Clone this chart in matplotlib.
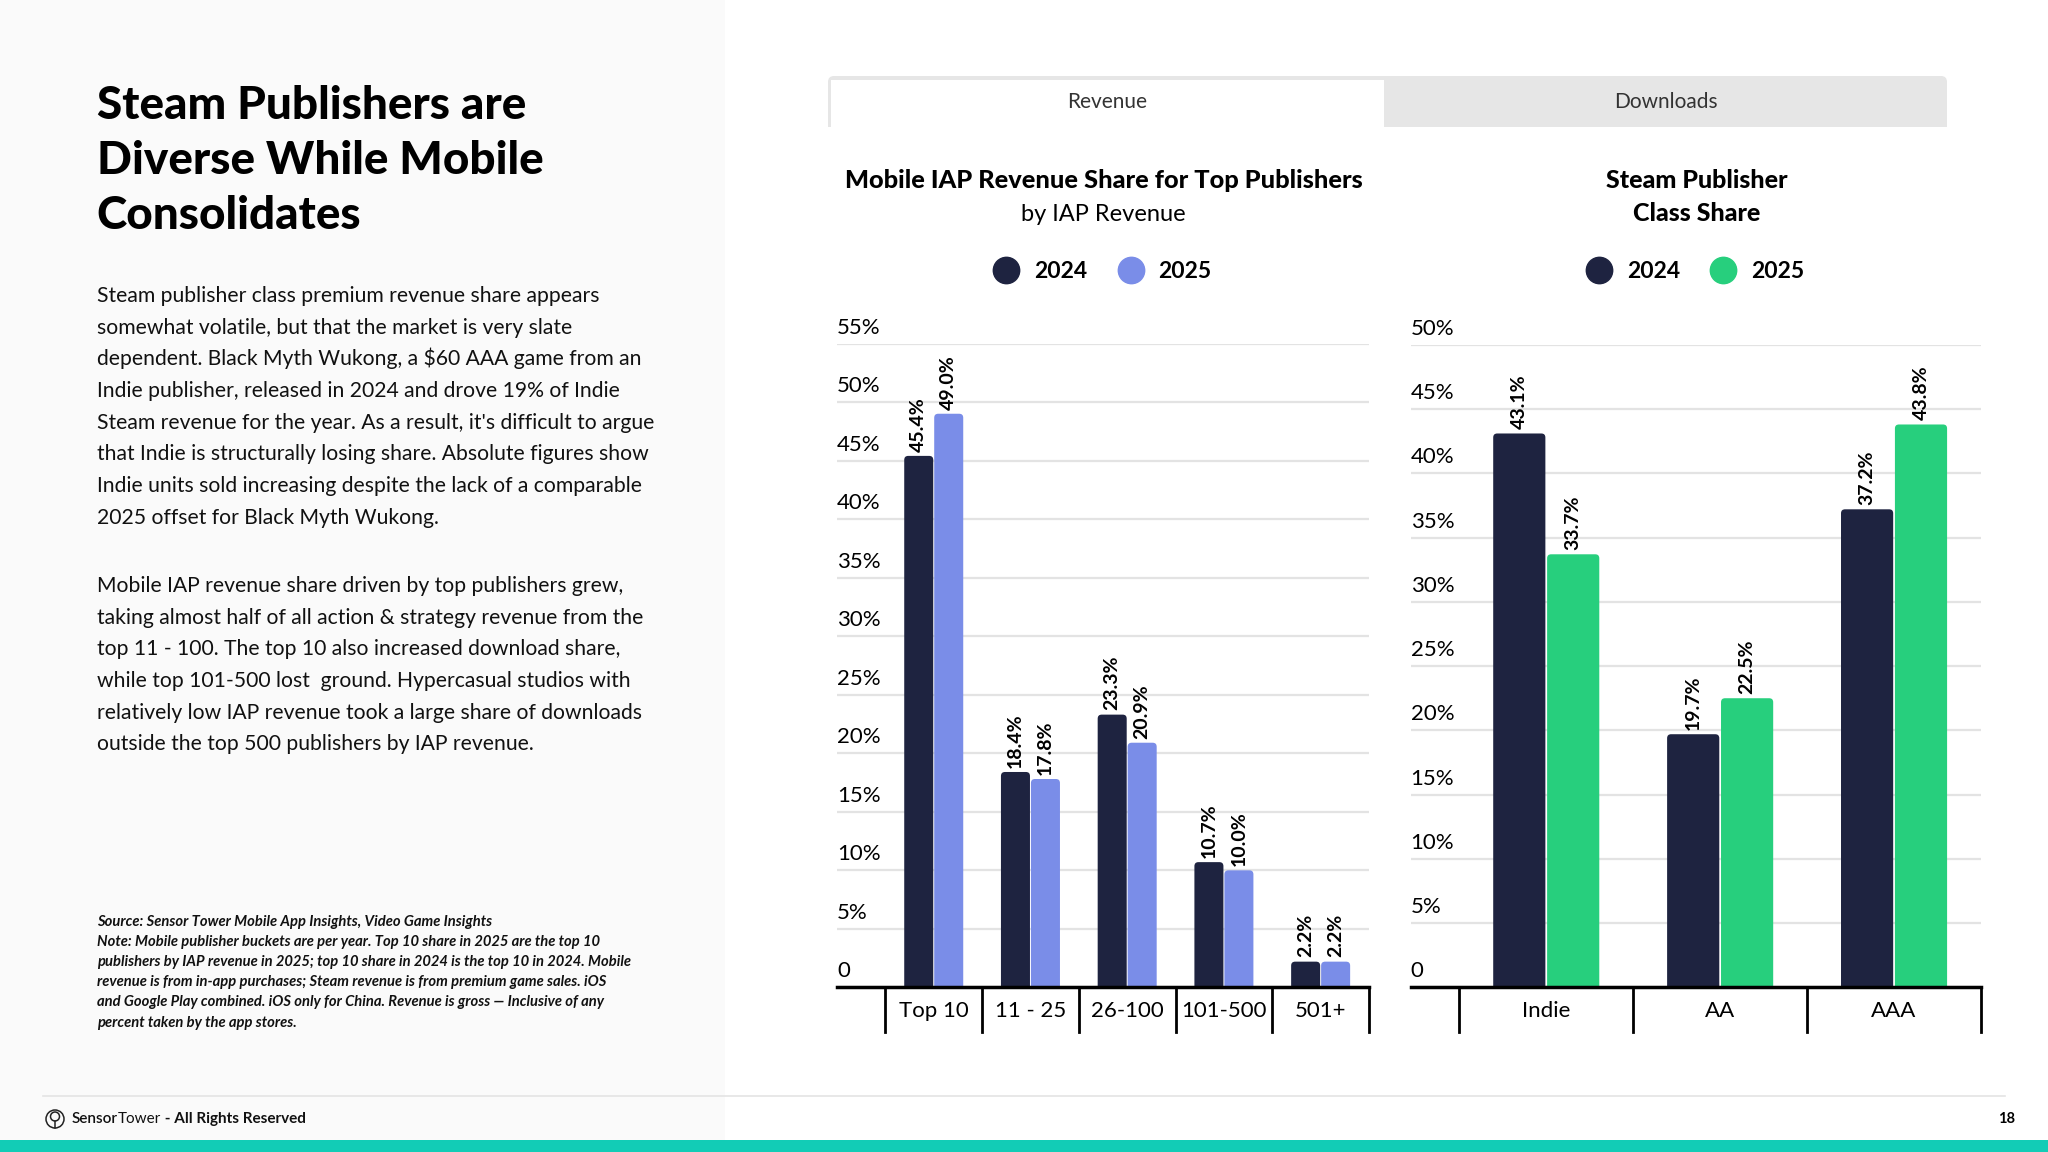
import numpy as np
import matplotlib.pyplot as plt
import matplotlib.transforms as mtransforms
from matplotlib.patches import FancyBboxPatch, Rectangle, Circle
from matplotlib.lines import Line2D

plt.rcParams['font.family'] = ['Lato', 'DejaVu Sans']
HEAVY = ['Lato Black', 'Lato', 'DejaVu Sans']

# ---- data ----
mobile_cats = ['Top 10', '11 - 25', '26-100', '101-500', '501+']
mobile_2024 = [45.4, 18.4, 23.3, 10.7, 2.2]
mobile_2025 = [49.0, 17.8, 20.9, 10.0, 2.2]
mobile_ticks = [0, 5, 10, 15, 20, 25, 30, 35, 40, 45, 50, 55]

steam_cats = ['Indie', 'AA', 'AAA']
steam_2024 = [43.1, 19.7, 37.2]
steam_2025 = [33.7, 22.5, 43.8]
steam_ticks = [0, 5, 10, 15, 20, 25, 30, 35, 40, 45, 50]

years = ['2024', '2025']

title_lines = ['Steam Publishers are', 'Diverse While Mobile', 'Consolidates']
para1 = [
    'Steam publisher class premium revenue share appears',
    'somewhat volatile, but that the market is very slate',
    r'dependent. Black Myth Wukong, a \$60 AAA game from an',
    'Indie publisher, released in 2024 and drove 19% of Indie',
    "Steam revenue for the year. As a result, it's difficult to argue",
    'that Indie is structurally losing share. Absolute figures show',
    'Indie units sold increasing despite the lack of a comparable',
    '2025 offset for Black Myth Wukong.',
]
para2 = [
    'Mobile IAP revenue share driven by top publishers grew,',
    'taking almost half of all action & strategy revenue from the',
    'top 11 - 100. The top 10 also increased download share,',
    'while top 101-500 lost  ground. Hypercasual studios with',
    'relatively low IAP revenue took a large share of downloads',
    'outside the top 500 publishers by IAP revenue.',
]
note_lines = [
    'Source: Sensor Tower Mobile App Insights, Video Game Insights',
    'Note: Mobile publisher buckets are per year. Top 10 share in 2025 are the top 10',
    'publishers by IAP revenue in 2025; top 10 share in 2024 is the top 10 in 2024. Mobile',
    'revenue is from in-app purchases; Steam revenue is from premium game sales. iOS',
    'and Google Play combined. iOS only for China. Revenue is gross \u2014 Inclusive of any',
    'percent taken by the app stores.',
]

NAVY = '#1e2340'
BLUE = '#7a8de8'
GREEN = '#27cf7d'

W, H = 2048, 1152
fig = plt.figure(figsize=(W / 100, H / 100), dpi=100)

# full-figure layer in pixel units for the page decoration
bg = fig.add_axes([0, 0, 1, 1], zorder=0)
bg.set_xlim(0, W)
bg.set_ylim(H, 0)
bg.axis('off')

bg.add_patch(Rectangle((0, 0), 725, 1140, color='#fafafa', lw=0))
bg.add_patch(Rectangle((0, 1140), W, 12, color='#12ccb6', lw=0))
bg.plot([43, 2005], [1096, 1096], color='#e4e4e4', lw=1.2)

# tabs
bg.add_patch(FancyBboxPatch((828, 76), 1119, 51, boxstyle='round,pad=0,rounding_size=6',
                            fc='#e6e6e6', ec='none'))
bg.add_patch(Rectangle((828, 100), 1119, 27, fc='#e6e6e6', ec='none'))
bg.add_patch(Rectangle((831, 80), 553, 47, fc='white', ec='none'))
bg.text(1107, 102, 'Revenue', ha='center', va='center', fontsize=15, color='#333333')
bg.text(1666, 102, 'Downloads', ha='center', va='center', fontsize=15, color='#333333')

# left text column
for i, line in enumerate(title_lines):
    bg.text(96.6, 119 + i * 55, line, ha='left', va='baseline', fontsize=33, weight='black',
            family=HEAVY)
for i, line in enumerate(para1):
    bg.text(96.6, 302 + i * 31.7, line, ha='left', va='baseline', fontsize=15.2, color='#111111')
for i, line in enumerate(para2):
    bg.text(96.6, 592 + i * 31.7, line, ha='left', va='baseline', fontsize=15.2, color='#111111')
for i, line in enumerate(note_lines):
    bg.text(96.6, 926 + i * 20.1, line, ha='left', va='baseline', fontsize=10.6,
            style='italic', weight='bold', color='#111111')

# chart titles
bg.text(1103.6, 188, 'Mobile IAP Revenue Share for Top Publishers', ha='center',
        va='baseline', fontsize=18.3, weight='black', family=HEAVY)
bg.text(1103.6, 221, 'by IAP Revenue', ha='center', va='baseline', fontsize=17)
bg.text(1696.6, 188, 'Steam Publisher', ha='center', va='baseline', fontsize=18,
        weight='black', family=HEAVY)
bg.text(1696.6, 221, 'Class Share', ha='center', va='baseline', fontsize=18,
        weight='black', family=HEAVY)

# footer
bg.add_patch(Circle((55, 1119), 9, fill=False, ec='#222222', lw=1.1))
bg.add_patch(Circle((55, 1116.5), 4.5, fill=False, ec='#222222', lw=1.1))
bg.plot([55, 55], [1121, 1128], color='#222222', lw=1.1)
renderer = fig.canvas.get_renderer()
xpos = 72
for txt, wt in [('Sensor', 'semibold'), ('Tower', 'normal'), (' - All Rights Reserved', 'bold')]:
    t = bg.text(xpos, 1119, txt, ha='left', va='center', fontsize=11, weight=wt, color='#111111')
    bb = t.get_window_extent(renderer)
    xpos = bg.transData.inverted().transform((bb.x1, bb.y0))[0]
bg.text(2007, 1119, '18', ha='center', va='center', fontsize=10.5, weight='bold')


def make_axes(left, right, top, bottom):
    return fig.add_axes([left / W, 1 - bottom / H, (right - left) / W, (bottom - top) / H], zorder=2)


def draw_chart(ax, cats, v24, v25, ticks, c25, xlim, leg_y):
    x = np.arange(len(cats))
    ymax = ticks[-1]
    ax.set_xlim(*xlim)
    ax.set_ylim(0, ymax)
    ax.patch.set_visible(False)

    pos = ax.get_position()
    px_x = pos.width * W / (xlim[1] - xlim[0])
    px_y = pos.height * H / ymax
    rx, ry = 4 / px_x, 4 / px_y

    for offs, vals, col in [(-0.155, v24, NAVY), (0.155, v25, c25)]:
        bars = ax.bar(x + offs, vals, 0.3, color=col)
        ax.bar_label(bars, labels=[f'{v:.1f}%' for v in vals], rotation=90, padding=3,
                     fontsize=14, weight='bold')
        for rect in bars:
            rect.set_visible(False)
            ax.add_patch(FancyBboxPatch((rect.get_x(), -ry), rect.get_width(),
                                        rect.get_height() + ry,
                                        boxstyle=f'round,pad=0,rounding_size={rx}',
                                        mutation_aspect=ry / rx, fc=col, ec='none', zorder=2))

    ax.set_yticks(ticks)
    ax.set_yticklabels([])
    ax.yaxis.grid(True, color='#e3e3e3', lw=1.6)
    ax.set_axisbelow(True)
    ax.tick_params(axis='y', length=0)
    trans = ax.get_yaxis_transform() + mtransforms.ScaledTranslation(0, 0.1, fig.dpi_scale_trans)
    for t in ticks:
        ax.text(0, t, '0' if t == 0 else f'{t}%', transform=trans, ha='left', va='baseline',
                fontsize=16)

    ax.set_xticks(x, cats)
    ax.tick_params(axis='x', length=0, pad=10, labelsize=16)
    for s in np.arange(-0.5, len(cats)):
        ax.plot([s, s], [0, -0.069], transform=ax.get_xaxis_transform(), color='black',
                lw=2, clip_on=False)

    for side in ['top', 'left', 'right']:
        ax.spines[side].set_visible(False)
    ax.spines['bottom'].set_linewidth(2.5)
    ax.spines['bottom'].set_zorder(3)

    handles = [Line2D([], [], marker='o', ls='none', ms=19, mfc=c, mec=c) for c in (NAVY, c25)]
    ax.legend(handles, years, loc='center', bbox_to_anchor=(0.5, leg_y), ncol=2, frameon=False,
              prop={'size': 16.5, 'weight': 'bold'}, handlelength=1.0, handletextpad=0.7,
              columnspacing=1.4)


ax1 = make_axes(837, 1369, 343.5, 987.4)
draw_chart(ax1, mobile_cats, mobile_2024, mobile_2025, mobile_ticks, BLUE, (-1.0, 4.5), 1.1115)

ax2 = make_axes(1410.6, 1981, 344.8, 987.4)
draw_chart(ax2, steam_cats, steam_2024, steam_2025, steam_ticks, GREEN, (-0.78, 2.5), 1.1137)

fig.savefig('out.png', dpi=100)
